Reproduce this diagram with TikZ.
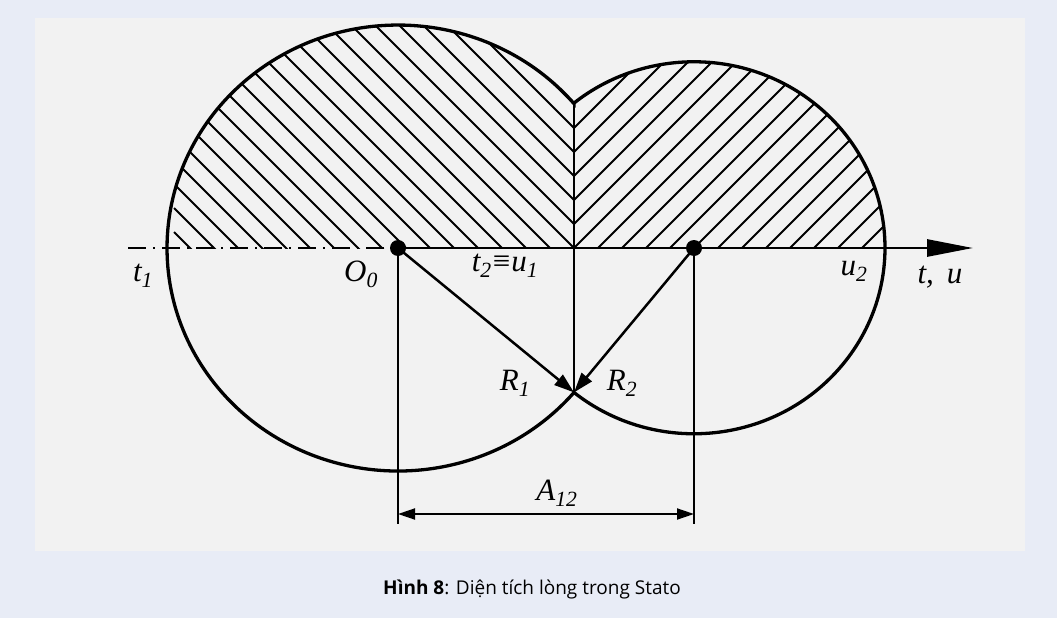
\documentclass[tikz,border=0pt]{standalone}
\usepackage{fontspec}
\setmainfont{Liberation Serif}
\newfontfamily\capfont{Open Sans}
\usetikzlibrary{arrows.meta, positioning}
\definecolor{pageColor}{RGB}{232,236,246}
\definecolor{panelColor}{RGB}{242,242,242}
\tikzstyle{rim} = [line width=3.3pt, line join=miter]
\tikzstyle{hatch} = [line width=1.8pt]
\tikzstyle{centerline} = [line width=2.4pt, dash pattern=on 18pt off 7pt on 2pt off 7pt]
\tikzstyle{axisline} = [line width=2.8pt, -{Triangle[length=46pt, width=17pt]}]
\tikzstyle{radarrow} = [line width=2.5pt, -{Triangle[length=20pt, width=13pt]}]
\tikzstyle{dimline} = [line width=1.6pt]
\tikzstyle{dimarrow} = [line width=1.9pt, {Triangle[length=17pt, width=11pt]}-{Triangle[length=17pt, width=11pt]}]
\tikzstyle{lbl} = [font=\fontsize{31}{31}\selectfont\itshape, inner sep=0pt]
\tikzstyle{dot} = [circle, fill=black, minimum size=16pt, inner sep=0pt]

\begin{document}
\begin{tikzpicture}[x=1pt, y=1pt]
            % page and panel
            \fill[pageColor] (0,0) rectangle (1057,-618);
            \fill[panelColor] (35,-18) rectangle (1025,-551);
            \useasboundingbox (0,0) rectangle (1057,-618);

            % centres and crossing points
            \coordinate (O1) at (398,-248);
            \coordinate (O2) at (694,-248);
            \coordinate (Q) at (574,-103.6);
            \coordinate (P) at (574,-392.4);
            \coordinate (axisL) at (128,-248);
            \coordinate (axisR) at (973,-248);
            \coordinate (footL) at (398,-524);
            \coordinate (footR) at (694,-524);
            \coordinate (dimL) at (398,-514);
            \coordinate (dimR) at (694,-514);

            % hatching, left part
            \begin{scope}
                \clip (0,-248) rectangle (574,0);
                \clip (O1) ellipse [x radius=231pt, y radius=223pt];
                \foreach \k in {-18,...,10}
                    \draw[hatch] ({574-400},{-248+24*\k+400}) -- ++(800,-800);
            \end{scope}
            % hatching, right part
            \begin{scope}
                \clip (574,-248) rectangle (1000,0);
                \clip (O2) ellipse [x radius=191pt, y radius=186pt];
                \foreach \k in {-14,...,8}
                    \draw[hatch] ({574-400},{-248+24*\k-400}) -- ++(800,800);
            \end{scope}

            % contour of the two bores
            \draw[rim] (Q) arc[start angle=40.37, end angle=319.63, x radius=231pt, y radius=223pt]
                arc[start angle=231.08, end angle=488.92, x radius=191pt, y radius=186pt] -- cycle;

            % axis
            \draw[centerline] (axisL) -- (O1);
            \draw[axisline] (O1) -- (axisR);
            \draw[line width=2.5pt] (Q) -- (P);

            % radii
            \draw[radarrow] (O1) -- (P);
            \draw[radarrow] (O2) -- (P);
            \node (c1) [dot] at (O1) {};
            \node (c2) [dot] at (O2) {};

            % dimension A12
            \draw[dimline] (O1) -- (footL);
            \draw[dimline] (O2) -- (footR);
            \draw[dimarrow] (dimL) -- (dimR);

            % labels
            \node (t1) [lbl] at (143,-276) {t\textsubscript{1}};
            \node (o0) [lbl] at (361,-274) {O\textsubscript{0}};
            \node (t2u1) [lbl] at (505,-266) {t\textsubscript{2}\kern1pt\upshape≡\itshape\kern1pt u\textsubscript{1}};
            \node (u2) [lbl] at (854,-271) {u\textsubscript{2}};
            \node (tu) [lbl] at (940,-277) {t, \,u};
            \node (r1) [lbl] at (515,-383) {R\textsubscript{1}};
            \node (r2) [lbl] at (622,-383) {R\textsubscript{2}};
            \node (a12) [lbl] at (557,-493) {A\textsubscript{12}};

            % caption
            \node (cap) at (532,-589) {\capfont\fontsize{19}{19}\selectfont\textbf{Hình 8}: Diện tích lòng trong Stato};
\end{tikzpicture}
\end{document}
